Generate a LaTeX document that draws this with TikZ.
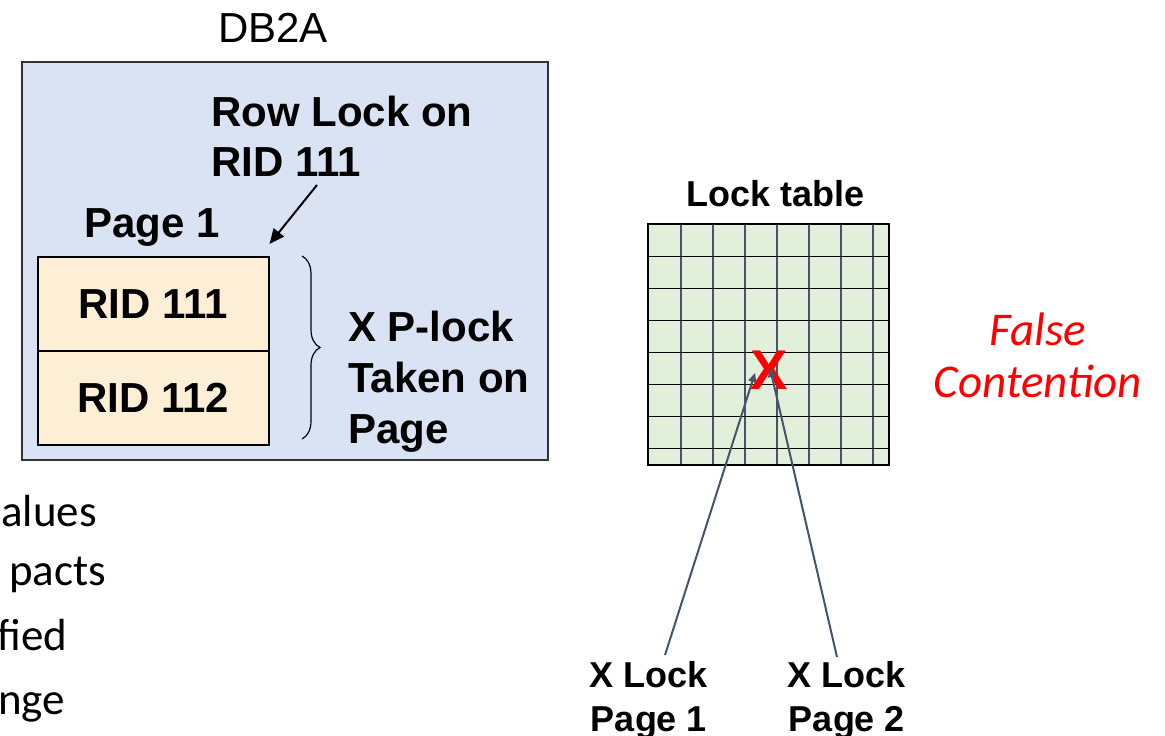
\documentclass[tikz,border=0pt]{standalone}
\usepackage{fontspec}
\setmainfont{Liberation Sans}
\newfontfamily\calib{Carlito}
\usetikzlibrary{arrows.meta,decorations.pathreplacing}
\definecolor{dbblue}{HTML}{DAE3F3}
\definecolor{pagebeige}{HTML}{FCEFD6}
\definecolor{gridgreen}{HTML}{E2EFDA}
\definecolor{slate}{HTML}{44546A}
\definecolor{fcred}{HTML}{FF0000}
\begin{document}
\begin{tikzpicture}[x=1pt,y=-1pt,
  big/.style={font=\fontsize{42}{50}\selectfont\bfseries,inner sep=0pt},
  mid/.style={font=\fontsize{36}{45}\selectfont\bfseries,inner sep=0pt},
  bullet/.style={font=\calib\fontsize{45}{52}\selectfont,inner sep=0pt,anchor=base west},
  fcstyle/.style={font=\calib\itshape\fontsize{47}{52}\selectfont,text=fcred,inner sep=0pt,anchor=base},
  pagecell/.style={draw=black,line width=1.5pt,fill=pagebeige,minimum width=231pt,minimum height=94pt,inner sep=0pt},
  link/.style={draw=slate,line width=2pt,-{Triangle[length=9pt,width=8pt]}}
]
\useasboundingbox (0,0) rectangle (1165,736);

% DB2A box
\node[font=\fontsize{42}{50}\selectfont,inner sep=0pt,anchor=base] (db2a) at (273,42) {DB2A};
\draw[draw=black!80,line width=2pt,fill=dbblue] (22,62) rectangle (548,460);
\node[big,anchor=base west] (rl1) at (211,126) {Row Lock on};
\node[big,anchor=base west] (rl2) at (211,176) {RID 111};
\node[big,anchor=base west] (pg1) at (84,237) {Page 1};

\node[pagecell,anchor=north west] (r111) at (37,256) {};
\node[pagecell,anchor=north west] (r112) at (37,350) {};
\node[big,anchor=base] (t111) at ([yshift=-15pt]r111.center) {RID 111};
\node[big,anchor=base] (t112) at ([yshift=-15pt]r112.center) {RID 112};

\coordinate (rlstart) at (317,185);
\draw[black,line width=2pt,-{Triangle[length=15pt,width=13pt]}] (rlstart) -- ([yshift=12pt]r111.north east);

\draw[black,line width=1.2pt,decorate,decoration={brace,amplitude=18pt}] (302,256) -- (302,439);

\node[big,anchor=base west] (xp1) at (348,341) {X P-lock};
\node[big,anchor=base west] (xp2) at (348,392) {Taken on};
\node[big,anchor=base west] (xp3) at (348,443) {Page};

% lock table
\node[mid,anchor=base] (lt) at (776,206) {Lock table};
\draw[black,line width=2pt,fill=gridgreen] (648,224) rectangle (889,465);
\foreach \gx in {681,713,745,777,809,841,873}
  \draw[slate,line width=2.2pt] (\gx,225) -- (\gx,464);
\foreach \gy in {256.5,288.5,320.5,352.5,384.5,416.5,448.5}
  \draw[black,line width=1.8pt] (649,\gy) -- (888,\gy);
\node[font=\fontsize{56}{60}\selectfont\bfseries,text=fcred,inner sep=0pt] (xmark) at (769,370) {X};

\node[mid,anchor=base] (xl1) at (649,687) {X Lock};
\node[mid,anchor=base] (xl1b) at (649,731) {Page 1};
\node[mid,anchor=base] (xl2) at (847,687) {X Lock};
\node[mid,anchor=base] (xl2b) at (847,731) {Page 2};
\coordinate (t1) at (665,655);
\coordinate (t2) at (837,657);
\draw[link] (t1) -- ([xshift=-14pt,yshift=-3pt]xmark.center);
\draw[link] (t2) -- ([xshift=1pt,yshift=2pt]xmark.center);

\node[fcstyle] (fc1) at (1038,345) {False};
\node[fcstyle] (fc2) at (1038,397) {Contention};

% clipped bullet text
\node[bullet] (b1) at (1,526) {alues};
\node[bullet] (b2) at (9,585) {pacts};
\node[bullet] (b3) at (-3,650) {fied};
\node[bullet] (b4) at (-2,714) {nge};
\end{tikzpicture}
\end{document}
